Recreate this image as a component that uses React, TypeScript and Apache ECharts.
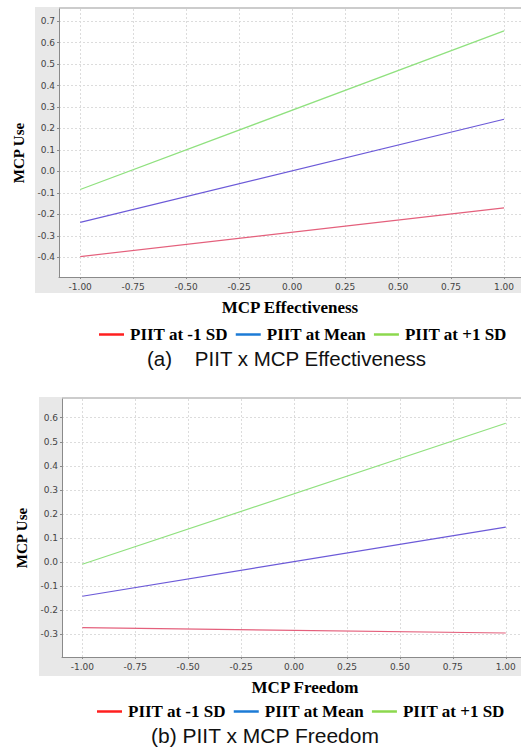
import React, { useEffect, useRef } from "react";
import * as echarts from "echarts";

const seriesNames = ["PIIT at -1 SD", "PIIT at Mean", "PIIT at +1 SD"];
const lineColors = ["#e4607c", "#6c5ad8", "#90e17f"];
const legendColors = ["#ff1f1f", "#1c7bd6", "#8cd84e"];

const xPoints = [-1, 1];
const xTicks = [-1, -0.75, -0.5, -0.25, 0, 0.25, 0.5, 0.75, 1];

// Panel (a): PIIT x MCP Effectiveness
const aLow = [-0.396, -0.169];
const aMean = [-0.237, 0.243];
const aHigh = [-0.084, 0.654];
const aYTicks = [-0.4, -0.3, -0.2, -0.1, 0, 0.1, 0.2, 0.3, 0.4, 0.5, 0.6, 0.7];

// Panel (b): PIIT x MCP Freedom
const bLow = [-0.274, -0.296];
const bMean = [-0.143, 0.145];
const bHigh = [-0.01, 0.577];
const bYTicks = [-0.3, -0.2, -0.1, 0, 0.1, 0.2, 0.3, 0.4, 0.5, 0.6];

const tickFont = { fontFamily: "DejaVu Sans", fontSize: 9, color: "#444" };
const serifBold = { fontFamily: "Liberation Serif", fontWeight: "bold" as const, color: "#000" };

function xAxisDef(gridIndex: number, name: string, min: number, max: number, pad: number) {
  return {
    type: "value",
    gridIndex,
    min,
    max,
    name,
    nameLocation: "middle",
    nameGap: 22,
    nameTextStyle: { ...serifBold, fontSize: 17, padding: [0, 0, 0, pad] },
    axisLine: { show: true, onZero: false, lineStyle: { color: "#8a8a8a", width: 1 } },
    axisTick: { show: true, length: 2, customValues: xTicks, lineStyle: { color: "#8a8a8a" } },
    axisLabel: { ...tickFont, margin: 5, customValues: xTicks, formatter: (v: number) => v.toFixed(2) },
    splitLine: { show: true, lineStyle: { color: "#dcdcdc", type: [2, 2], width: 1 } },
  };
}

function yAxisDef(gridIndex: number, min: number, max: number, ticks: number[]) {
  return {
    type: "value",
    gridIndex,
    min,
    max,
    name: "MCP Use",
    nameLocation: "middle",
    nameGap: 30,
    nameRotate: 90,
    nameTextStyle: { ...serifBold, fontSize: 15, padding: [0, 20, 0, 0] },
    axisLine: { show: true, onZero: false, lineStyle: { color: "#8a8a8a", width: 1 } },
    axisTick: { show: true, length: 2, customValues: ticks, lineStyle: { color: "#8a8a8a" } },
    axisLabel: { ...tickFont, margin: 4, customValues: ticks, formatter: (v: number) => v.toFixed(1) },
    splitLine: { show: true, lineStyle: { color: "#dcdcdc", type: [2, 2], width: 1 } },
  };
}

function makeSeries(idx: number, vals: number[][]) {
  return vals.map((v, i) => ({
    type: "line",
    name: seriesNames[i],
    xAxisIndex: idx,
    yAxisIndex: idx,
    data: xPoints.map((x, j) => [x, v[j]]),
    showSymbol: false,
    lineStyle: { color: lineColors[i], width: 1.2 },
    itemStyle: { color: lineColors[i] },
  }));
}

function legendDef(top: number, left: number) {
  return {
    top,
    left,
    icon: "rect",
    itemWidth: 25,
    itemHeight: 2.5,
    itemGap: 8,
    textStyle: { ...serifBold, fontSize: 17, padding: [0, 0, 0, 1] },
    data: seriesNames.map((n, i) => ({
      name: n,
      itemStyle: { color: legendColors[i] },
      lineStyle: { color: legendColors[i] },
    })),
  };
}

export default function App() {
  const ref = useRef<HTMLDivElement>(null);
  useEffect(() => {
    document.body.style.margin = "0";
    const chart = echarts.init(ref.current!, null, { renderer: "svg" });
    chart.setOption({
      animation: false,
      backgroundColor: "#fff",
      graphic: [
        { type: "rect", z: -10, shape: { x: 35, y: 7, width: 486, height: 286 }, style: { fill: "#e8e8e8" } },
        { type: "rect", z: -10, shape: { x: 39, y: 397, width: 482, height: 279 }, style: { fill: "#e8e8e8" } },
        { type: "rect", z: -5, shape: { x: 59, y: 7, width: 462, height: 2 }, style: { fill: "#cccccc" } },
        { type: "rect", z: -5, shape: { x: 62, y: 397, width: 459, height: 2 }, style: { fill: "#cccccc" } },
        {
          type: "text",
          left: 147,
          top: 348,
          style: { text: "(a)    PIIT x MCP Effectiveness", font: "20.5px 'Liberation Sans'", fill: "#111" },
        },
        {
          type: "text",
          left: 151,
          top: 725,
          style: { text: "(b) PIIT x MCP Freedom", font: "21px 'Liberation Sans'", fill: "#111" },
        },
      ],
      grid: [
        { left: 59, top: 9, width: 462, height: 268, show: true, backgroundColor: "#fff", borderWidth: 0 },
        { left: 62, top: 399, width: 459, height: 258, show: true, backgroundColor: "#fff", borderWidth: 0 },
      ],
      legend: [legendDef(321, 94), legendDef(698, 92)],
      xAxis: [
        xAxisDef(0, "MCP Effectiveness", -1.1, 1.08, 0),
        xAxisDef(1, "MCP Freedom", -1.096, 1.072, 27),
      ],
      yAxis: [yAxisDef(0, -0.491, 0.756, aYTicks), yAxisDef(1, -0.396, 0.678, bYTicks)],
      series: [
        ...makeSeries(0, [aLow, aMean, aHigh]),
        ...makeSeries(1, [bLow, bMean, bHigh]),
      ],
    });
    return () => chart.dispose();
  }, []);
  return <div ref={ref} style={{ width: 521, height: 749 }} />;
}
